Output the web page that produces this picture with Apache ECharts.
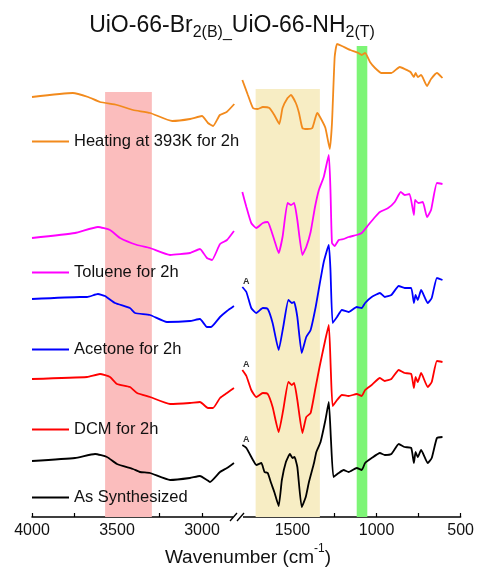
<!DOCTYPE html>
<html>
<head>
<meta charset="utf-8">
<script src="https://cdn.jsdelivr.net/npm/echarts@6/dist/echarts.min.js"></script>
<style>html,body{margin:0;padding:0;background:#fff}#c{width:477px;height:576px}</style>
</head>
<body>
<div id="c"></div>
<script>
// ---- data: [wavenumber (cm-1), stacked intensity (a.u.)] ----
const seriesNames = ['Heating at 393K for 2h', 'Toluene for 2h', 'Acetone for 2h', 'DCM for 2h', 'As Synthesized'];
const seriesColors = ['#F28A1C', '#FF00FF', '#0000FF', '#FF0000', '#000000'];

const heating = [
  [4000,420],[3760,424],[3670,420],[3600,415],[3500,412],[3405,407],[3305,404],[3175,396],[3070,398],[3000,401],[2965,394],[2935,391],[2895,402],[2855,405],[2810,413],
  [1798,437],[1765,422],[1735,409],[1706,408],[1676,410],[1637,409],[1608,402],[1578,393],[1559,409],[1529,419],[1509,422],[1480,414],[1461,404],[1441,389],[1412,388],[1382,389],[1353,404],[1333,399],[1304,389],[1278,368],[1265,394],[1249,460],[1235,473],[1206,471],[1156,467],[1108,464],[1088,462],[1068,464],[1039,455],[1009,449],[971,444],[912,444],[862,450],[833,448],[798,445],[778,440],[768,444],[755,440],[735,442],[700,431],[676,438],[641,444],[608,439]
];
const toluene = [
  [4000,279],[3747,284],[3612,290],[3541,287],[3482,279],[3382,272],[3306,269],[3188,262],[3071,264],[3012,268],[2971,259],[2941,257],[2894,273],[2853,277],[2812,286],
  [1798,325],[1774,310],[1745,294],[1715,289],[1676,294],[1647,295],[1627,287],[1608,277],[1582,264],[1559,280],[1529,314],[1509,312],[1490,314],[1471,297],[1441,262],[1418,270],[1392,285],[1366,310],[1343,327],[1314,340],[1284,362],[1274,327],[1265,274],[1249,271],[1225,277],[1196,278],[1166,280],[1118,282],[1088,284],[1049,292],[1009,300],[980,305],[931,309],[892,315],[856,325],[833,322],[804,323],[778,302],[771,317],[751,314],[725,315],[700,300],[676,307],[641,334],[608,333]
];
const acetone = [
  [4000,218],[3718,220],[3676,220],[3612,223],[3571,221],[3512,214],[3424,209],[3394,204],[3306,202],[3206,195],[3071,196],[3012,198],[2971,190],[2947,190],[2894,200],[2853,206],[2812,211],
  [1798,230],[1774,225],[1745,209],[1715,204],[1676,209],[1647,208],[1618,194],[1582,167],[1555,190],[1524,217],[1504,214],[1490,215],[1471,200],[1445,164],[1418,180],[1392,187],[1362,210],[1339,232],[1314,255],[1284,272],[1274,247],[1261,194],[1235,200],[1206,207],[1166,205],[1118,210],[1088,209],[1068,214],[1029,220],[980,224],[951,220],[912,222],[868,231],[833,229],[794,229],[778,214],[768,222],[755,217],[735,227],[696,214],[672,219],[641,239],[608,237]
];
const dcm = [
  [4000,138],[3676,140],[3600,143],[3541,140],[3500,133],[3424,130],[3382,124],[3306,120],[3188,113],[3071,114],[3012,115],[2965,109],[2935,109],[2894,119],[2853,124],[2812,129],
  [1798,147],[1774,141],[1745,127],[1715,120],[1676,124],[1647,123],[1618,110],[1582,85],[1555,107],[1524,135],[1504,132],[1490,134],[1471,117],[1441,84],[1418,100],[1392,104],[1362,130],[1339,150],[1314,170],[1284,192],[1272,147],[1261,111],[1235,117],[1206,122],[1166,121],[1118,123],[1088,121],[1068,127],[1029,132],[980,139],[951,136],[912,138],[868,147],[833,144],[794,143],[778,129],[768,140],[755,135],[735,144],[696,130],[672,135],[641,156],[608,155]
];
const asSynth = [
  [4000,56],[3747,59],[3629,63],[3559,60],[3500,53],[3406,48],[3365,45],[3306,44],[3188,37],[3071,39],[3012,41],[2971,37],[2953,35],[2894,45],[2853,49],[2812,54],
  [1798,72],[1774,69],[1735,57],[1715,52],[1685,54],[1666,45],[1647,44],[1627,34],[1608,25],[1582,11],[1563,37],[1539,55],[1515,63],[1500,59],[1488,60],[1471,50],[1445,10],[1421,20],[1402,35],[1372,54],[1358,65],[1333,75],[1304,97],[1284,115],[1271,77],[1256,40],[1225,44],[1196,47],[1166,45],[1118,49],[1088,47],[1068,54],[1029,59],[980,64],[951,62],[912,63],[868,73],[833,70],[794,69],[778,54],[768,65],[755,60],[735,67],[696,54],[672,59],[641,79],[608,80]
];
const spectra = [heating, toluene, acetone, dcm, asSynth];
const markedWithA = [false, false, true, true, true];

// shaded bands: [from, to, top]
const bandLeft = [[3570, 3295, 425]];
const bandsRight = [[1719, 1337, 428, '#F7EDC4'], [1118, 1055, 471, '#7DF576']];

const leftTicks = [4000, 3750, 3500, 3250, 3000];
const leftLabels = [4000, 3500, 3000];
const rightTicks = [1500, 1250, 1000, 750, 500];
const rightLabels = [1500, 1000, 500];

// legend label tops (px) under each trace
const legendTops = [133, 264, 341, 421, 489];

const chart = echarts.init(document.getElementById('c'), null, {renderer: 'canvas'});
const FONT = 'Liberation Sans, Arial, Helvetica, sans-serif';

const axisCommon = {
  type: 'value', inverse: true, splitLine: {show: false},
  axisLine: {show: true, onZero: false, lineStyle: {color: '#000', width: 1.5}},
  axisTick: {show: true, inside: true, length: 4, lineStyle: {color: '#000', width: 1.2}},
  axisLabel: {color: '#111', fontSize: 16, fontFamily: FONT, margin: 6, formatter: v => String(v)}
};

const series = [];
spectra.forEach((d, i) => {
  const left = d.filter(p => p[0] >= 2000);
  const right = d.filter(p => p[0] < 2000);
  const base = {type: 'line', name: seriesNames[i], symbol: 'none', z: 5, smooth: 0.15,
    lineStyle: {color: seriesColors[i], width: 1.8}, itemStyle: {color: seriesColors[i]}, animation: false};
  series.push(Object.assign({}, base, {xAxisIndex: 0, yAxisIndex: 0, data: left}));
  const r = Object.assign({}, base, {xAxisIndex: 1, yAxisIndex: 1, data: right});
  if (markedWithA[i]) {
    r.markPoint = {symbol: 'circle', symbolSize: 0, animation: false,
      data: [{coord: right[0], label: {show: true, formatter: 'A', position: 'inside', offset: [4, -5],
        fontSize: 9, fontWeight: 'bold', color: '#333', fontFamily: FONT}}]};
  }
  series.push(r);
});
// background bands
series.push({type: 'line', xAxisIndex: 0, yAxisIndex: 0, data: [], z: 1, silent: true,
  markArea: {silent: true, itemStyle: {color: '#FBBDBD'},
    data: bandLeft.map(b => [{xAxis: b[0], yAxis: 0}, {xAxis: b[1], yAxis: b[2]}])}});
series.push({type: 'line', xAxisIndex: 1, yAxisIndex: 1, data: [], z: 1, silent: true,
  markArea: {silent: true,
    data: bandsRight.map(b => [{xAxis: b[0], yAxis: 0, itemStyle: {color: b[3]}}, {xAxis: b[1], yAxis: b[2]}])}});

const legends = seriesNames.map((n, i) => ({
  data: [n], left: 32, top: legendTops[i], padding: 0, icon: 'rect',
  itemWidth: 37, itemHeight: 2, selectedMode: false,
  textStyle: {fontSize: 16.5, color: '#111', fontFamily: FONT}
}));

chart.setOption({
  animation: false,
  backgroundColor: '#fff',
  title: [
    {text: '{m|UiO-66-Br}{s|2(B)_}{m|UiO-66-NH}{s|2(T)}', left: 232, textAlign: 'center', top: 11, padding: 0,
      textStyle: {rich: {
        m: {fontSize: 23, fontWeight: 'normal', fontFamily: FONT, color: '#111', lineHeight: 30, verticalAlign: 'middle'},
        s: {fontSize: 16, fontWeight: 'normal', fontFamily: FONT, color: '#111', lineHeight: 18, verticalAlign: 'bottom'}}}},
    {text: '{a|Wavenumber (cm}{b|-1}{a|)}', left: 248, textAlign: 'center', top: 543, padding: 0,
      textStyle: {rich: {
        a: {fontSize: 19, fontWeight: 'normal', fontFamily: FONT, color: '#111', lineHeight: 24, verticalAlign: 'bottom'},
        b: {fontSize: 12, fontWeight: 'normal', fontFamily: FONT, color: '#111', lineHeight: 12, verticalAlign: 'top'}}}}
  ],
  legend: legends,
  grid: [
    {left: 32, width: 204, top: 37, bottom: 59},
    {left: 242, width: 221, top: 37, bottom: 59}
  ],
  xAxis: [
    Object.assign({}, axisCommon, {gridIndex: 0, min: 2800, max: 4000,
      axisTick: Object.assign({}, axisCommon.axisTick, {customValues: leftTicks}),
      axisLabel: Object.assign({}, axisCommon.axisLabel, {customValues: leftLabels})}),
    Object.assign({}, axisCommon, {gridIndex: 1, min: 500, max: 1800,
      axisTick: Object.assign({}, axisCommon.axisTick, {customValues: rightTicks}),
      axisLabel: Object.assign({}, axisCommon.axisLabel, {customValues: rightLabels})})
  ],
  yAxis: [
    {type: 'value', gridIndex: 0, min: 0, max: 480, show: false},
    {type: 'value', gridIndex: 1, min: 0, max: 480, show: false}
  ],
  graphic: [
    {type: 'rect', shape: {x: 233, y: 514, width: 10, height: 6}, style: {fill: '#fff'}, z: 100},
    {type: 'line', shape: {x1: 230, y1: 521, x2: 237, y2: 513}, style: {stroke: '#000', lineWidth: 1.3}, z: 101},
    {type: 'line', shape: {x1: 237, y1: 521, x2: 244, y2: 513}, style: {stroke: '#000', lineWidth: 1.3}, z: 101}
  ],
  series: series
});
</script>
</body>
</html>
